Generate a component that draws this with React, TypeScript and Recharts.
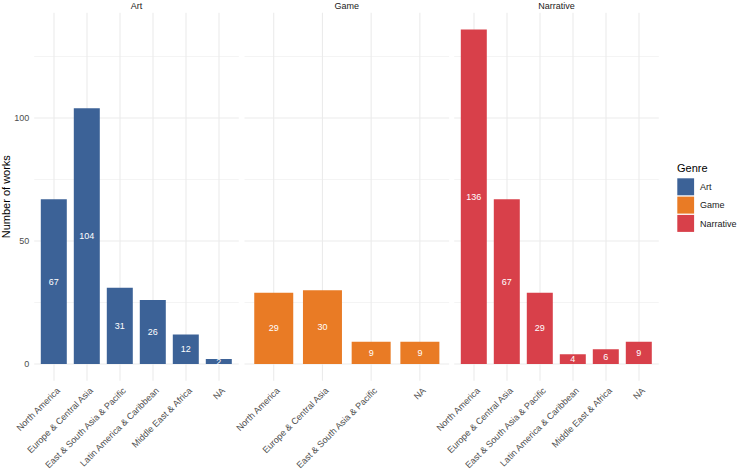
import React from 'react';
import { BarChart, Bar, XAxis, YAxis, CartesianGrid, LabelList } from 'recharts';

const genres = ['Art', 'Game', 'Narrative'];
const genreColors = ['#3c6297', '#e97b25', '#d8404a'];

const artRegions = ['North America', 'Europe & Central Asia', 'East & South Asia & Pacific', 'Latin America & Caribbean', 'Middle East & Africa', 'NA'];
const artCounts = [67, 104, 31, 26, 12, 2];

const gameRegions = ['North America', 'Europe & Central Asia', 'East & South Asia & Pacific', 'NA'];
const gameCounts = [29, 30, 9, 9];

const narrativeRegions = ['North America', 'Europe & Central Asia', 'East & South Asia & Pacific', 'Latin America & Caribbean', 'Middle East & Africa', 'NA'];
const narrativeCounts = [136, 67, 29, 4, 6, 9];

const yTicks = [0, 50, 100];
const yMinor = [25, 75, 125];
const yDomain = [-6.8, 142.8];

const W = 738;
const H = 471;
const FONT = '"Liberation Sans", Arial, sans-serif';
const PANEL_TOP = 12.7;
const PANEL_BOTTOM = 380.7;
const PANEL_W = 204.6;
const PANEL_LEFTS = [34.2, 244.5, 454.2];
const X_AXIS_H = 30;
const Y_AXIS_W = 34.2;

const panels = [
  { regions: artRegions, counts: artCounts },
  { regions: gameRegions, counts: gameCounts },
  { regions: narrativeRegions, counts: narrativeCounts },
];

const RotTick = (props: any) => {
  const { x, y, payload } = props;
  const ax = x + 2;
  const ay = y;
  return (
    <text
      x={ax}
      y={ay}
      dy="0.71em"
      transform={`rotate(-45, ${ax}, ${ay})`}
      textAnchor="end"
      fontSize={9}
      fill="#4d4d4d"
      fontFamily={FONT}
    >
      {payload.value}
    </text>
  );
};

function Panel({ idx }: { idx: number }) {
  const p = panels[idx];
  const data = p.regions.map((r, i) => ({ region: r, count: p.counts[i] }));
  const left = PANEL_LEFTS[idx];
  const n = p.regions.length;
  const step = PANEL_W / (n + 0.2);
  const pad = step * 0.1;
  const showY = idx === 0;
  return (
    <div style={{ position: 'absolute', left: 0, top: 0, width: W, height: H }}>
      <BarChart
        width={W}
        height={H}
        data={data}
        barCategoryGap="10%"
        margin={{
          top: PANEL_TOP,
          bottom: H - PANEL_BOTTOM - X_AXIS_H,
          left: showY ? left - Y_AXIS_W : left,
          right: W - left - PANEL_W,
        }}
      >
        <CartesianGrid
          horizontal={true}
          vertical={false}
          syncWithTicks={true}
          horizontalValues={yMinor}
          stroke="#ebebeb"
          strokeWidth={0.55}
        />
        <CartesianGrid
          horizontal={true}
          vertical={true}
          syncWithTicks={true}
          horizontalValues={yTicks}
          stroke="#ebebeb"
          strokeWidth={1.1}
        />
        <XAxis
          dataKey="region"
          type="category"
          interval={0}
          height={X_AXIS_H}
          axisLine={false}
          tickLine={false}
          tickSize={0}
          tickMargin={6}
          padding={{ left: pad, right: pad }}
          tick={<RotTick />}
        />
        <YAxis
          type="number"
          domain={yDomain}
          ticks={yTicks}
          allowDataOverflow={true}
          hide={!showY}
          width={Y_AXIS_W}
          axisLine={false}
          tickLine={false}
          tickSize={0}
          tickMargin={5}
          tick={{ fontSize: 9, fill: '#4d4d4d', fontFamily: FONT }}
        />
        <Bar dataKey="count" fill={genreColors[idx]} isAnimationActive={false}>
          <LabelList dataKey="count" position="center" fill="#ffffff" fontSize={9} fontFamily={FONT} />
        </Bar>
      </BarChart>
    </div>
  );
}

export default function App() {
  const panelCenterY = (PANEL_TOP + PANEL_BOTTOM) / 2;
  return (
    <div style={{ position: 'absolute', left: 0, top: 0, width: W, height: H, background: '#ffffff', fontFamily: FONT }}>
      {panels.map((_, i) => (
        <Panel key={i} idx={i} />
      ))}
      <svg width={W} height={H} style={{ position: 'absolute', left: 0, top: 0, pointerEvents: 'none' }}>
        {genres.map((g, i) => (
          <text
            key={g}
            x={PANEL_LEFTS[i] + PANEL_W / 2}
            y={8.5}
            textAnchor="middle"
            fontSize={9}
            fill="#1a1a1a"
            fontFamily={FONT}
          >
            {g}
          </text>
        ))}
        <text
          x={10}
          y={panelCenterY}
          transform={`rotate(-90, 10, ${panelCenterY})`}
          textAnchor="middle"
          fontSize={11}
          fill="#000000"
          fontFamily={FONT}
        >
          Number of works
        </text>
        <text x={677} y={171.5} fontSize={11} fill="#000000" fontFamily={FONT}>
          Genre
        </text>
        {genres.map((g, i) => (
          <g key={g}>
            <rect x={677.3} y={178.3 + i * 18.3} width={16.8} height={17} fill={genreColors[i]} />
            <text x={700} y={178.3 + i * 18.3 + 8.5} dy="0.35em" fontSize={9} fill="#1a1a1a" fontFamily={FONT}>
              {g}
            </text>
          </g>
        ))}
      </svg>
    </div>
  );
}
